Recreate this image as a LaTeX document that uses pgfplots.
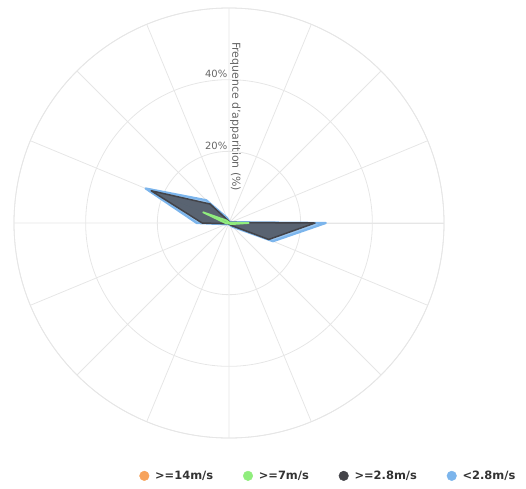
\documentclass[border=0pt]{standalone}
\usepackage{fontspec}
\setmainfont{DejaVu Sans}
\usepackage{pgfplots}
\pgfplotsset{compat=1.18}
\usepgfplotslibrary{polar}
\usepackage{pgfplotstable}

\definecolor{hcOrange}{HTML}{F7A35C}
\definecolor{hcGreen}{HTML}{90ED7D}
\definecolor{hcDark}{HTML}{434348}
\definecolor{hcBlue}{HTML}{7CB5EC}
\definecolor{gridgray}{HTML}{E6E6E6}
\definecolor{labelgray}{HTML}{666666}

% dir = compass bearing (0 = N, clockwise); values are cumulative frequency in %
\pgfplotstableread{
dir    blue   dark   green
0      0.6    0.4    0.2
22.5   0.4    0.2    0.1
45     0.4    0.2    0.1
67.5   0.6    0.4    0.2
90     27.0   24.0   5.5
112.5  13.3   12.0   0.8
135    1.5    1.0    0.3
157.5  0.6    0.4    0.2
180    0.4    0.3    0.1
202.5  0.3    0.2    0.1
225    0.4    0.3    0.1
247.5  0.9    0.5    0.3
270    9.0    7.5    1.0
292.5  25.2   23.5   7.8
315    9.0    7.5    1.0
337.5  1.6    0.8    0.3
360    0.6    0.4    0.2
}\rosedata

\begin{document}
\begin{tikzpicture}[x=1bp,y=1bp]
\path[use as bounding box] (0,0) rectangle (526,-489);
\begin{polaraxis}[
    at={(229bp,-223bp)}, anchor=center,
    scale only axis,
    width=430bp, height=430bp,
    ymin=0, ymax=60,
    xtick={0,22.5,...,337.5},
    ytick={20,40,60},
    xticklabels={}, yticklabels={},
    grid=major,
    major grid style={draw=gridgray, line width=0.8bp},
    axis line style={draw=gridgray, line width=0.8bp},
    major tick length=0pt,
    clip=false,
    legend columns=4,
    legend style={
        at={(1.178,-0.088)}, anchor=east,
        draw=none, fill=none,
        font=\bfseries\fontsize{11.5}{13}\selectfont,
        text=black!80,
        /tikz/every odd column/.append style={column sep=4bp},
        /tikz/every even column/.append style={column sep=28bp},
    },
]
\addlegendimage{only marks, mark=*, mark size=4.8bp, color=hcOrange}
\addlegendentry{>=14m/s}
\addlegendimage{only marks, mark=*, mark size=4.8bp, color=hcGreen}
\addlegendentry{>=7m/s}
\addlegendimage{only marks, mark=*, mark size=4.8bp, color=hcDark}
\addlegendentry{>=2.8m/s}
\addlegendimage{only marks, mark=*, mark size=4.8bp, color=hcBlue}
\addlegendentry{<2.8m/s}

\addplot[forget plot, draw=hcBlue, line width=2.2bp, fill=hcBlue, fill opacity=0.75, line join=round]
    table[x expr={90-\thisrow{dir}}, y=blue] {\rosedata};
\addplot[forget plot, draw=hcDark, line width=1.5bp, fill=hcDark, fill opacity=0.75, line join=round]
    table[x expr={90-\thisrow{dir}}, y=dark] {\rosedata};
\addplot[forget plot, draw=hcGreen, line width=1.8bp, fill=hcGreen, fill opacity=0.75, line join=round]
    table[x expr={90-\thisrow{dir}}, y=green] {\rosedata};

\node[anchor=south east, inner sep=1.5bp, text=labelgray, font=\fontsize{10}{12}\selectfont]
    at (axis cs:90,20) {20\%};
\node[anchor=south east, inner sep=1.5bp, text=labelgray, font=\fontsize{10}{12}\selectfont]
    at (axis cs:90,40) {40\%};
\node[rotate=-90, anchor=center, text=labelgray, font=\fontsize{11}{13}\selectfont]
    at ([xshift=6.5bp]axis cs:90,29.7) {Frequence d'apparition (\%)};
\end{polaraxis}
\end{tikzpicture}
\end{document}
